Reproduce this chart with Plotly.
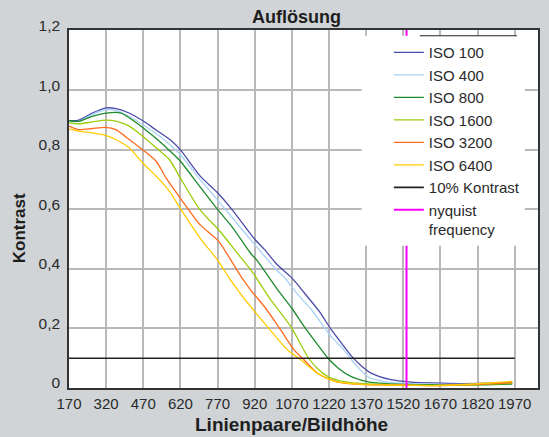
import plotly.graph_objects as go

# ---- data ----
iso100_x = [170, 210, 260, 320, 360, 410, 470, 520, 580, 620, 700, 770, 830, 920, 960, 1010, 1070, 1120, 1180, 1230, 1280, 1310, 1350, 1390, 1470, 1550, 1640, 1750, 1850, 1960]
iso100_y = [0.898, 0.900, 0.922, 0.941, 0.939, 0.925, 0.897, 0.868, 0.833, 0.800, 0.712, 0.656, 0.598, 0.500, 0.465, 0.415, 0.370, 0.320, 0.258, 0.195, 0.140, 0.108, 0.075, 0.050, 0.028, 0.020, 0.017, 0.015, 0.016, 0.019]

iso400_x = [170, 210, 260, 320, 360, 410, 470, 520, 580, 620, 700, 770, 830, 920, 1010, 1040, 1090, 1150, 1200, 1230, 1280, 1330, 1380, 1430, 1480, 1550, 1640, 1750, 1850, 1960]
iso400_y = [0.895, 0.896, 0.918, 0.935, 0.932, 0.914, 0.884, 0.856, 0.816, 0.784, 0.700, 0.632, 0.572, 0.482, 0.395, 0.372, 0.318, 0.262, 0.205, 0.172, 0.128, 0.075, 0.036, 0.024, 0.018, 0.015, 0.013, 0.012, 0.013, 0.016]

iso800_x = [170, 210, 260, 320, 380, 410, 470, 520, 580, 620, 700, 770, 830, 904, 930, 1010, 1070, 1120, 1170, 1216, 1260, 1310, 1360, 1410, 1500, 1640, 1750, 1850, 1960]
iso800_y = [0.898, 0.896, 0.912, 0.924, 0.924, 0.910, 0.874, 0.840, 0.795, 0.762, 0.675, 0.600, 0.540, 0.452, 0.428, 0.333, 0.268, 0.206, 0.150, 0.100, 0.065, 0.038, 0.024, 0.017, 0.013, 0.011, 0.010, 0.011, 0.013]

iso1600_x = [170, 210, 264, 318, 359, 413, 468, 522, 576, 620, 700, 775, 850, 910, 985, 1066, 1134, 1170, 1216, 1260, 1310, 1400, 1500, 1640, 1750, 1850, 1960]
iso1600_y = [0.891, 0.888, 0.894, 0.900, 0.897, 0.880, 0.846, 0.807, 0.767, 0.705, 0.598, 0.531, 0.453, 0.390, 0.296, 0.206, 0.105, 0.068, 0.038, 0.025, 0.018, 0.013, 0.011, 0.009, 0.009, 0.012, 0.016]

iso3200_x = [170, 210, 264, 318, 359, 413, 468, 522, 562, 622, 700, 775, 836, 874, 904, 964, 1025, 1079, 1120, 1175, 1256, 1350, 1450, 1550, 1640, 1750, 1850, 1960]
iso3200_y = [0.880, 0.868, 0.872, 0.876, 0.868, 0.835, 0.800, 0.762, 0.706, 0.635, 0.548, 0.492, 0.413, 0.363, 0.329, 0.268, 0.195, 0.128, 0.094, 0.049, 0.020, 0.012, 0.010, 0.009, 0.008, 0.010, 0.013, 0.018]

iso6400_x = [170, 210, 264, 318, 359, 413, 468, 522, 576, 622, 700, 770, 815, 860, 904, 971, 1053, 1107, 1175, 1243, 1350, 1450, 1550, 1640, 1750, 1850, 1960]
iso6400_y = [0.871, 0.863, 0.857, 0.849, 0.835, 0.807, 0.756, 0.712, 0.661, 0.600, 0.503, 0.430, 0.372, 0.320, 0.273, 0.206, 0.128, 0.094, 0.049, 0.022, 0.012, 0.010, 0.009, 0.008, 0.011, 0.016, 0.022]

contrast10_x = [170, 1970]
contrast10_y = [0.1, 0.1]

nyquist_x = [1533, 1533]
nyquist_y = [0, 1.21]

x_tickvals = [170, 320, 470, 620, 770, 920, 1070, 1220, 1370, 1520, 1670, 1820, 1970]
x_ticktext = [str(v) for v in x_tickvals]
y_tickvals = [0, 0.2, 0.4, 0.6, 0.8, 1.0, 1.2]
y_ticktext = ["0", "0,2", "0,4", "0,6", "0,8", "1,0", "1,2"]

series = [
    ("ISO 100", iso100_x, iso100_y, "#4b4ba8"),
    ("ISO 400", iso400_x, iso400_y, "#a9d2f7"),
    ("ISO 800", iso800_x, iso800_y, "#1e8a2c"),
    ("ISO 1600", iso1600_x, iso1600_y, "#9acd0a"),
    ("ISO 3200", iso3200_x, iso3200_y, "#ff6a1e"),
    ("ISO 6400", iso6400_x, iso6400_y, "#ffcc00"),
    ("10% Kontrast", contrast10_x, contrast10_y, "#222222"),
    ("nyquist<br>frequency", nyquist_x, nyquist_y, "#ff00ff"),
]

SANS = "Liberation Sans, Arial, Helvetica, sans-serif"
BG = "#d0d4d7"

fig = go.Figure()
for name, xs, ys, col in series:
    if name.startswith("nyquist"):
        ln = dict(color=col, width=2)
    elif name.startswith("10%"):
        ln = dict(color=col, width=1.6)
    else:
        ln = dict(color=col, width=1.3, shape="spline", smoothing=0.7)
    fig.add_trace(go.Scatter(x=xs, y=ys, mode="lines", name=name,
                             line=ln, legendgroup=name))

fig.update_layout(
    width=549, height=437,
    paper_bgcolor=BG, plot_bgcolor="#ffffff",
    margin=dict(l=69, r=11, t=30, b=49),
    font=dict(family=SANS, size=15, color="#2a2a2a"),
    showlegend=True,
    legend=dict(x=0.682, y=0.983, xanchor="left", yanchor="top",
                bgcolor="rgba(0,0,0,0)", borderwidth=0,
                font=dict(family=SANS, size=15, color="#2a2a2a"),
                valign="top", tracegroupgap=0),
    xaxis=dict(range=[170, 2064], tickvals=x_tickvals, ticktext=x_ticktext,
               tickangle=0, automargin=False, ticklabelstandoff=1,
               showgrid=True, gridcolor="#b9b9b9", gridwidth=2,
               showline=True, linecolor="#333333", linewidth=1.5, mirror=True,
               ticks="", zeroline=False, tickfont=dict(family=SANS, size=15, color="#2a2a2a")),
    yaxis=dict(range=[0, 1.203], tickvals=y_tickvals, ticktext=y_ticktext,
               automargin=False, ticklabelstandoff=4, ticklabelshift=-5,
               showgrid=True, gridcolor="#b9b9b9", gridwidth=2,
               showline=True, linecolor="#333333", linewidth=1.5, mirror=True,
               ticks="", zeroline=False, tickfont=dict(family=SANS, size=15.5, color="#2a2a2a")),
    shapes=[
        dict(type="rect", xref="paper", yref="paper", x0=0.624, x1=0.972, y0=0.397, y1=0.984,
             fillcolor="#ffffff", line=dict(width=0), layer="above"),
        dict(type="line", xref="paper", yref="paper", x0=0.748, x1=0.955, y0=0.984, y1=0.984,
             line=dict(color="#222222", width=1.2), layer="above"),
    ],
    annotations=[
        dict(text="<b>Auflösung</b>", xref="paper", yref="paper", x=0.485, y=1.036,
             xanchor="center", yanchor="middle", showarrow=False,
             font=dict(family=SANS, size=18, color="#1e1e1e")),
        dict(text="<b>Linienpaare/Bildhöhe</b>", xref="paper", yref="paper", x=0.475, y=-0.103,
             xanchor="center", yanchor="middle", showarrow=False,
             font=dict(family=SANS, size=19, color="#1e1e1e")),
        dict(text="<b>Kontrast</b>", xref="paper", yref="paper", x=-0.104, y=0.447,
             xanchor="center", yanchor="middle", showarrow=False, textangle=-90,
             font=dict(family=SANS, size=17, color="#1e1e1e")),
    ],
)

fig.write_html(
    "out.html",
    config={"displayModeBar": False},
    post_script="document.body.style.margin='0';document.body.style.background='" + BG + "';",
)
